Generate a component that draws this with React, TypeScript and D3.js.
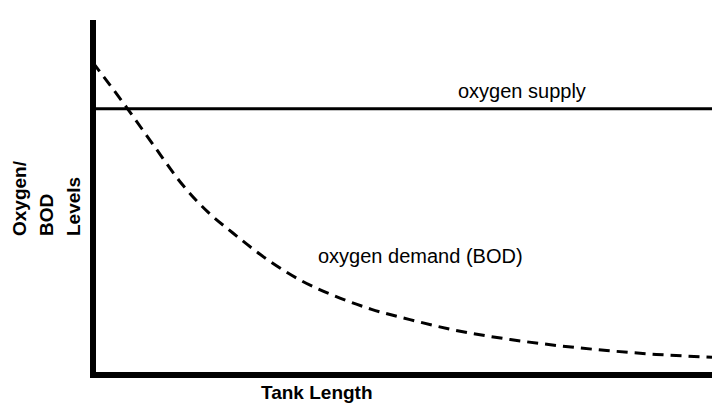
import React from 'react';
import * as d3 from 'd3';

// tank position (0..100) and relative level (0..100)
const demandX = [0, 5.5, 10, 14.5, 18.5, 22.6, 28.1, 33.4, 40, 45, 51.2, 58, 67.4, 75, 83, 91, 100];
const demandY = [88, 75.2, 64.2, 53.5, 46, 40, 32.6, 26.8, 21.6, 18.5, 15.6, 12.8, 10, 8.3, 6.9, 5.8, 5];
const supplyLevel = 75;

const yLabelLines = ['Oxygen/', 'BOD', 'Levels'];
const xLabel = 'Tank Length';
const supplyLabel = 'oxygen supply';
const demandLabel = 'oxygen demand (BOD)';

const width = 712;
const height = 404;
const margin = { top: 20, right: 0, bottom: 29, left: 93 };
const font = '"Liberation Sans", Arial, Helvetica, sans-serif';

const App = () => {
  const x = d3.scaleLinear().domain([0, 100]).range([margin.left, width - margin.right]);
  const y = d3.scaleLinear().domain([0, 100]).range([height - margin.bottom, margin.top]);

  const points: [number, number][] = demandX.map((d, i) => [d, demandY[i]]);
  const line = d3.line<[number, number]>()
    .x(d => x(d[0]))
    .y(d => y(d[1]))
    .curve(d3.curveMonotoneX);

  const x0 = x(0);
  const y0 = y(0);

  return (
    <svg width={width} height={height} style={{ position: 'absolute', left: 0, top: 0, background: '#fff' }}>
      <rect width={width} height={height} fill='#fff' />

      {/* demand curve */}
      <path d={line(points) || ''} fill='none' stroke='#000' strokeWidth={3} strokeDasharray='11,7' />

      {/* supply line */}
      <line x1={x0} x2={x(100)} y1={y(supplyLevel)} y2={y(supplyLevel)} stroke='#000' strokeWidth={3} />

      {/* axes */}
      <line x1={x0} x2={x0} y1={margin.top} y2={y0 + 3} stroke='#000' strokeWidth={6} />
      <line x1={x0 - 3} x2={x(100)} y1={y0} y2={y0} stroke='#000' strokeWidth={6} />

      <text x={458} y={98} fontFamily={font} fontSize={20} fill='#000'>{supplyLabel}</text>
      <text x={318} y={263} fontFamily={font} fontSize={20} fill='#000'>{demandLabel}</text>

      <text x={261} y={399} fontFamily={font} fontSize={19} fontWeight='bold' fill='#000'>{xLabel}</text>

      {yLabelLines.map((t, i) => (
        <text
          key={`ylab-${i}`}
          transform={`translate(${26 + i * 27}, 236) rotate(-90)`}
          fontFamily={font}
          fontSize={19}
          fontWeight='bold'
          fill='#000'
        >
          {t}
        </text>
      ))}
    </svg>
  );
};

export default App;
